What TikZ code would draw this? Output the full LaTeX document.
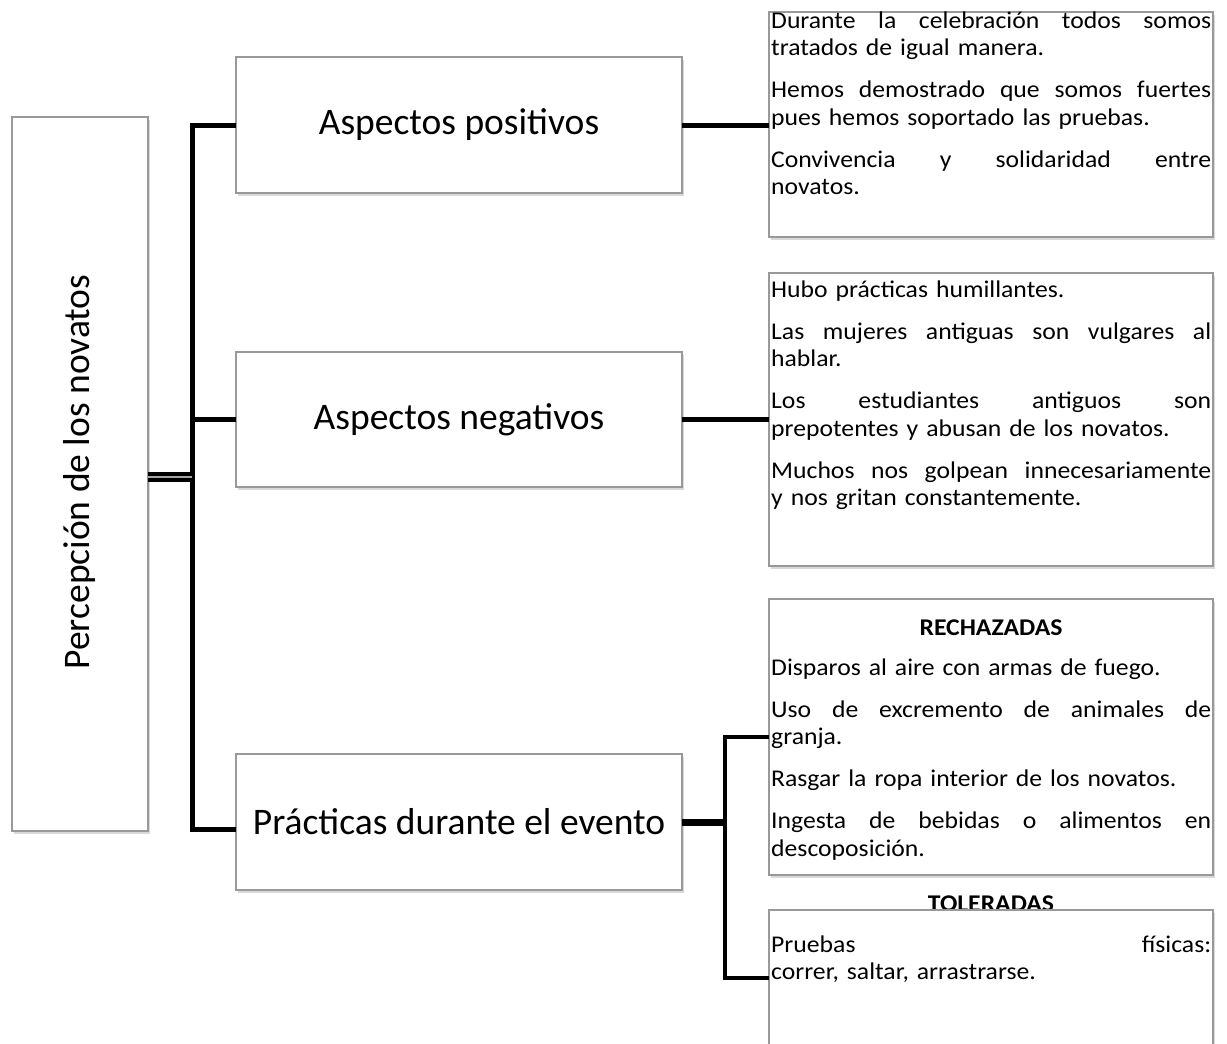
\documentclass[tikz,border=0pt]{standalone}
\usepackage{fontspec}
\setmainfont{Carlito}
\newfontfamily\bodyfont{Carlito}[FakeStretch=1.07]
\usetikzlibrary{shadows,calc}
\newcommand\jl[1]{\leavevmode\hbox to 440pt{#1}}
\begin{document}
\begin{tikzpicture}[x=1pt,y=-1pt,
  boxs/.style={draw=gray!80, line width=1.3pt, fill=white, outer sep=0pt, inner sep=0pt,
     drop shadow={shadow xshift=1.5pt, shadow yshift=-2.5pt, opacity=0.3}},
  lbl/.style={font=\fontsize{37.5}{44}\selectfont},
  body/.style={text width=440pt, align=left, inner sep=0pt, font=\bodyfont\fontsize{24}{27.5}\selectfont},
  head/.style={inner sep=0pt, font=\bodyfont\fontsize{24}{27.5}\selectfont\bfseries},
  trunk/.style={line width=5pt},
  conn/.style={line width=5pt},
  thin/.style={line width=3.5pt},
]
\useasboundingbox (0,0) rectangle (1227,1044);
\clip (0,0) rectangle (1227,1044);

% left root box
\node[boxs, minimum width=136pt, minimum height=714pt] (root) at (80,474) {};
\node[lbl, rotate=90] (rootl) at (80,472) {Percepción de los novatos};

% middle boxes
\node[boxs, lbl, minimum width=446pt, minimum height=136pt] (pos) at (459,125) {Aspectos positivos};
\node[boxs, lbl, minimum width=446pt, minimum height=135pt] (neg) at (459,419.5) {Aspectos negativos};
\node[boxs, lbl, minimum width=446pt, minimum height=136pt] (prac) at (459,822) {Prácticas durante el evento};

% right text boxes
\node[boxs, minimum width=444pt, minimum height=225pt] (tb1) at (991,124.5) {};
\node[boxs, minimum width=444pt, minimum height=293pt] (tb2) at (991,419.5) {};
\node[boxs, minimum width=444pt, minimum height=276pt] (tb3) at (991,737) {};
\node[head, anchor=base] (tolh) at (991,911.5) {TOLERADAS};
\node[boxs, minimum width=444pt, minimum height=200pt] (tb4) at (991,1010) {};

\node[body, anchor=base west] (t1) at (771,28) {\jl{Durante\hfill la\hfill celebración\hfill todos\hfill somos}\\ tratados de igual manera.\\[14.5pt]
\jl{Hemos\hfill demostrado\hfill que\hfill somos\hfill fuertes}\\ pues hemos soportado las pruebas.\\[14.5pt]
\jl{Convivencia\hfill y\hfill solidaridad\hfill entre}\\ novatos.};

\node[body, anchor=base west] (t2) at (771,297) {Hubo prácticas humillantes.\\[14.5pt]
\jl{Las\hfill mujeres\hfill antiguas\hfill son\hfill vulgares\hfill al}\\ hablar.\\[14.5pt]
\jl{Los\hfill estudiantes\hfill antiguos\hfill son}\\ prepotentes y abusan de los novatos.\\[14.5pt]
\jl{Muchos\hfill nos\hfill golpean\hfill innecesariamente}\\ y nos gritan constantemente.};

\node[head, anchor=base] (rejh) at (991,635) {RECHAZADAS};
\node[body, anchor=base west] (t3) at (771,675) {Disparos al aire con armas de fuego.\\[14.5pt]
\jl{Uso\hfill de\hfill excremento\hfill de\hfill animales\hfill de}\\ granja.\\[14.5pt]
Rasgar la ropa interior de los novatos.\\[14.5pt]
\jl{Ingesta\hfill de\hfill bebidas\hfill o\hfill alimentos\hfill en}\\ descoposición.};

\node[body, anchor=base west] (t4) at (771,952) {\jl{Pruebas\hfill físicas:}\\ correr, saltar, arrastrarse.};

% connectors
\coordinate (trt) at (192,125);
\coordinate (trb) at (192,829);
\draw[trunk] (pos.west) -- (trt) -- (trb) -- (prac.west |- trb);
\draw[trunk] (neg.west) -- (neg.west -| trt);
\draw[line width=4pt, double=gray!70, double distance=1.5pt] ([yshift=-3pt]root.east) -- ([yshift=-3pt]root.east -| trt);

\draw[conn] (pos.east) -- (pos.east -| tb1.west);
\draw[conn] (neg.east) -- (neg.east -| tb2.west);

\coordinate (pj) at (725,822);
\coordinate (tbr) at (769,978);
\draw[line width=7pt] (prac.east) -- (pj);
\draw[thin] (tb3.west) -| (pj) |- (tbr);
\end{tikzpicture}
\end{document}
